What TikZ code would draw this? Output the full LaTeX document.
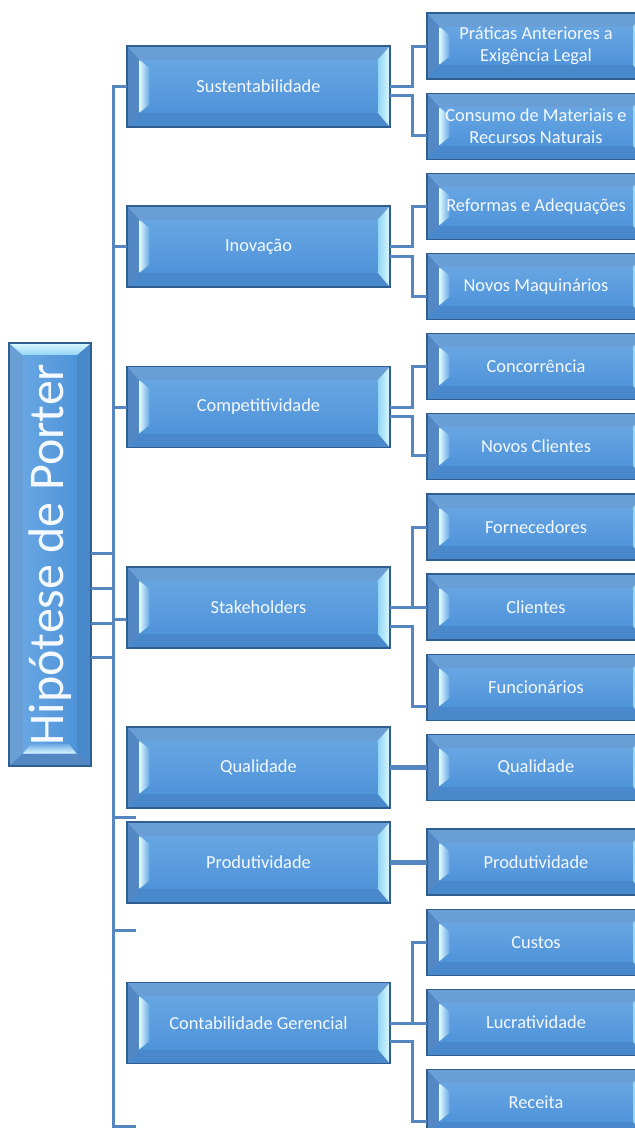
\documentclass[tikz,border=0pt]{standalone}
\usepackage{fontspec}
\setmainfont{Carlito}
\usetikzlibrary{calc}

\definecolor{bevborder}{HTML}{2F5E90}
\definecolor{bevtop}{HTML}{6A9FD6}
\definecolor{bevleft}{HTML}{5488C4}
\definecolor{bevbottom}{HTML}{4A88CC}
\definecolor{facetop}{HTML}{67A6E3}
\definecolor{facebot}{HTML}{4F93D9}
\definecolor{glint}{HTML}{DDF9FF}
\definecolor{glintmid}{HTML}{8ED3F4}
\definecolor{linkblue}{HTML}{5686C0}
\definecolor{labelwhite}{HTML}{F4F9FF}

\tikzset{
  lbl/.style={text=labelwhite, font=\fontsize{18.4}{22}\selectfont, align=center, inner sep=0pt},
  conn/.style={draw=linkblue, line width=3pt},
}

% bevelled box lying flat: centre x, centre y, width, height
\newcommand\bevelbox[4]{%
  \begin{scope}[shift={(#1,#2)}]
    \pgfmathsetmacro\bxa{#3/2}
    \pgfmathsetmacro\bxb{#4/2}
    \pgfmathsetmacro\bxs{\bxa-12.5}
    \pgfmathsetmacro\bxt{\bxb-14}
    \pgfmathsetmacro\bxu{\bxb-14.5}
    % body, in the colour of the upper bevel
    \fill[bevtop] (-\bxa,-\bxb) rectangle (\bxa,\bxb);
    % left bevel
    \fill[bevleft] (-\bxa,-\bxb) -- (-\bxs,-\bxt) -- (-\bxs,\bxu) -- (-\bxa,\bxb) -- cycle;
    % lower bevel
    \fill[bevbottom] (-\bxa,\bxb) -- (-\bxs,\bxu) -- (\bxs,\bxu) -- (\bxa,\bxb) -- cycle;
    % lit right bevel
    \shade[left color=glintmid, right color=glint] (\bxa,-\bxb) -- (\bxs,-\bxt) -- (\bxs,\bxu) -- (\bxa,\bxb) -- cycle;
    % front face
    \shade[top color=facetop, bottom color=facebot] (-\bxs,-\bxt) rectangle (\bxs,\bxu);
    % glint along the inner left edge
    \shade[left color=glint, right color=facetop] (-\bxs,-\bxt) -- (-\bxs+10,-\bxt+8) -- (-\bxs+10,\bxu-8) -- (-\bxs,\bxu) -- cycle;
    \draw[bevborder, line width=1.2pt] (-\bxa,-\bxb) rectangle (\bxa,\bxb);
  \end{scope}}

% the same box standing up, lit from the top: centre x, centre y, width, height
\newcommand\bevelboxup[4]{%
  \begin{scope}[shift={(#1,#2)}]
    \pgfmathsetmacro\bxa{#3/2}
    \pgfmathsetmacro\bxb{#4/2}
    \pgfmathsetmacro\bxl{-\bxa+14}
    \pgfmathsetmacro\bxr{\bxa-14.5}
    \pgfmathsetmacro\bxs{\bxb-12.5}
    % body, in the colour of the left bevel
    \fill[bevtop] (-\bxa,-\bxb) rectangle (\bxa,\bxb);
    % lower bevel
    \fill[bevleft] (-\bxa,\bxb) -- (\bxl,\bxs) -- (\bxr,\bxs) -- (\bxa,\bxb) -- cycle;
    % right bevel
    \fill[bevbottom] (\bxa,-\bxb) -- (\bxr,-\bxs) -- (\bxr,\bxs) -- (\bxa,\bxb) -- cycle;
    % lit upper bevel
    \shade[top color=glint, bottom color=glintmid] (-\bxa,-\bxb) -- (\bxa,-\bxb) -- (\bxr,-\bxs) -- (\bxl,-\bxs) -- cycle;
    % front face
    \shade[left color=facetop, right color=facebot] (\bxl,-\bxs) rectangle (\bxr,\bxs);
    % glint along the inner lower edge
    \shade[bottom color=glint, top color=facetop] (\bxl,\bxs) -- (\bxr,\bxs) -- (\bxr-8,\bxs-10) -- (\bxl+8,\bxs-10) -- cycle;
    \draw[bevborder, line width=1.2pt] (-\bxa,-\bxb) rectangle (\bxa,\bxb);
  \end{scope}}

% named box with its label: name, centre x, centre y, width, height, text
\newcommand\bevnode[6]{%
  \bevelbox{#2}{#3}{#4}{#5}
  \node[lbl, minimum width=#4pt, minimum height=#5pt] (#1) at (#2,#3) {#6};}

\begin{document}
\begin{tikzpicture}[x=1pt, y=-1pt]
  \useasboundingbox (0,0) rectangle (635,1128);
  \clip (0,0) rectangle (635,1128);

  % root
  \bevelboxup{50}{554.5}{82}{423}
  \node[lbl, rotate=90, font=\fontsize{50}{56}\selectfont, minimum width=423pt, minimum height=82pt]
    (root) at (50,554.5) {Hipótese de Porter};

  % second level
  \bevnode{sust}{258.5}{86.5}{263}{81}{Sustentabilidade}
  \bevnode{inov}{258.5}{246.5}{263}{81}{Inovação}
  \bevnode{comp}{258.5}{407}{263}{81}{Competitividade}
  \bevnode{stak}{258.5}{607.5}{263}{81}{Stakeholders}
  \bevnode{qual}{258.5}{767.5}{263}{81}{Qualidade}
  \bevnode{prod}{258.5}{862.5}{263}{81}{Produtividade}
  \bevnode{cont}{258.5}{1023}{263}{81}{Contabilidade Gerencial}

  % third level
  \bevnode{prat}{536}{46}{218}{66}{Práticas Anteriores a\\Exigência Legal}
  \bevnode{cons}{536}{126.5}{218}{66}{Consumo de Materiais e\\Recursos Naturais}
  \bevnode{refo}{536}{206.5}{218}{66}{Reformas e Adequações}
  \bevnode{maqu}{536}{286.5}{218}{66}{Novos Maquinários}
  \bevnode{conc}{536}{366.5}{218}{66}{Concorrência}
  \bevnode{ncli}{536}{446.5}{218}{66}{Novos Clientes}
  \bevnode{forn}{536}{527}{218}{66}{Fornecedores}
  \bevnode{clie}{536}{607}{218}{66}{Clientes}
  \bevnode{func}{536}{687.5}{218}{66}{Funcionários}
  \bevnode{qualr}{536}{767.5}{218}{66}{Qualidade}
  \bevnode{prodr}{536}{862}{218}{66}{Produtividade}
  \bevnode{cust}{536}{942.5}{218}{66}{Custos}
  \bevnode{lucr}{536}{1022.5}{218}{66}{Lucratividade}
  \bevnode{rece}{536}{1102.5}{218}{66}{Receita}

  % spine from the root to the second level
  \coordinate (spbot) at (113,1126);
  \draw[conn] (sust.west) -| (spbot) -- ++(23,0);
  \draw[conn] (spbot |- inov.west) -- (inov.west);
  \draw[conn] (spbot |- comp.west) -- (comp.west);
  \draw[conn] (spbot |- 0,619) -- (stak.west |- 0,619);
  \foreach \y in {817,930}
    \draw[conn] (spbot |- 0,\y) -- ++(23,0);
  \foreach \y in {553,588,623,657}
    \draw[conn] (root.south |- 0,\y) -- (spbot |- 0,\y);

  % second level to third level
  \draw[conn] (sust.east) -- ++(22,0) |- (prat.west);
  \draw[conn] ([yshift=-9pt]sust.east) -- ++(22,0) |- ([yshift=-9pt]cons.west);
  \draw[conn] (inov.east) -- ++(22,0) |- (refo.west);
  \draw[conn] ([yshift=-9.5pt]inov.east) -- ++(22,0) |- ([yshift=-9.5pt]maqu.west);
  \draw[conn] (comp.east) -- ++(22,0) |- (conc.west);
  \draw[conn] ([yshift=-9pt]comp.east) -- ++(22,0) |- ([yshift=-9pt]ncli.west);

  \draw[conn] (stak.east) -- ++(22,0) |- (forn.west);
  \draw[conn] (stak.east) -- (stak.east -| clie.west);
  \draw[conn] ([yshift=-18.5pt]stak.east) -- ++(22,0) |- ([yshift=-18.5pt]func.west);

  \draw[conn, line width=4.5pt] (qual.east) -- (qualr.west);
  \draw[conn, line width=4.5pt] (prod.east) -- (prod.east -| prodr.west);

  \draw[conn] (cont.east) -- ++(22,0) |- (cust.west);
  \draw[conn] (cont.east) -- (cont.east -| lucr.west);
  \draw[conn] ([yshift=-18.5pt]cont.east) -- ++(22,0) |- ([yshift=-18.5pt]rece.west);
\end{tikzpicture}
\end{document}
